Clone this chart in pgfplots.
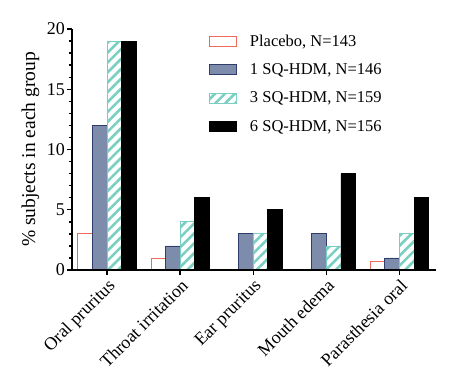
\documentclass[border=0pt]{standalone}
\usepackage{pgfplots}
\pgfplotsset{compat=1.18}
\usepackage{fontspec}
\setmainfont{Liberation Serif}
\usetikzlibrary{patterns.meta}
\definecolor{plred}{HTML}{F06A5C}
\definecolor{sqblue}{HTML}{7D8CAA}
\definecolor{sqedge}{HTML}{2E3D6B}
\definecolor{sqteal}{HTML}{7ACFC3}
\newcommand{\fsTick}{\fontsize{18}{21}\selectfont}
\newcommand{\fsLab}{\fontsize{19.5}{23}\selectfont}
\newcommand{\fsLeg}{\fontsize{16.5}{19}\selectfont}
\begin{document}
\begin{tikzpicture}[font=\fsTick]
\useasboundingbox (-72pt,-108pt) rectangle (398pt,270pt);
\begin{axis}[
  at={(0pt,0pt)}, anchor=south west,
  scale only axis, width=364pt, height=241pt,
  /pgf/number format/assume math mode=true,
  axis lines*=left,
  axis line style={line width=1.6pt},
  ybar, bar width=0.2,
  xmin=-0.48, xmax=4.5,
  ymin=0, ymax=20,
  ytick={0,5,10,15,20},
  minor y tick num=4,
  xtick={0,1,2,3,4},
  xticklabels={Oral pruritus,Throat irritation,Ear pruritus,Mouth edema,Parasthesia oral},
  tick label style={font=\fsTick},
  xticklabel style={rotate=45, anchor=north east, inner sep=2pt},
  yticklabel style={inner sep=2pt},
  tick align=outside,
  tick style={line width=1.4pt, black},
  major tick length=5pt, minor tick length=3pt,
  ylabel={\% subjects in each group},
  label style={font=\fsLab},
  ylabel style={at={(ticklabel cs:0.5)}, yshift=2pt},
  legend style={draw=none, fill=none, at={(0.368,0.99)}, anchor=north west,
    font=\fsLeg, row sep=14pt, column sep=12pt,
    nodes={inner sep=1pt}},
  legend cell align=left,
  legend image code/.code={\draw[#1, line width=0.8pt] (0pt,-5pt) rectangle (27pt,5pt);},
  axis on top,
]
\addplot[bar shift=-0.3, draw=plred, fill=white, line width=0.8pt] coordinates {(0,3) (1,1) (4,0.7)};
\addplot[bar shift=-0.1, draw=sqedge, fill=sqblue, line width=0.8pt] coordinates {(0,12) (1,2) (2,3) (3,3) (4,1)};
\addplot[bar shift=0.1, draw=sqteal, line width=0.8pt, pattern={Lines[angle=45,distance=7pt,line width=2.6pt]}, pattern color=sqteal] coordinates {(0,19) (1,4) (2,3) (3,2) (4,3)};
\addplot[bar shift=0.3, draw=black, fill=black, line width=0.8pt] coordinates {(0,19) (1,6) (2,5) (3,8) (4,6)};
\legend{Placebo{,} N=143, 1 SQ-HDM{,} N=146, 3 SQ-HDM{,} N=159, 6 SQ-HDM{,} N=156}
\end{axis}
\end{tikzpicture}
\end{document}
